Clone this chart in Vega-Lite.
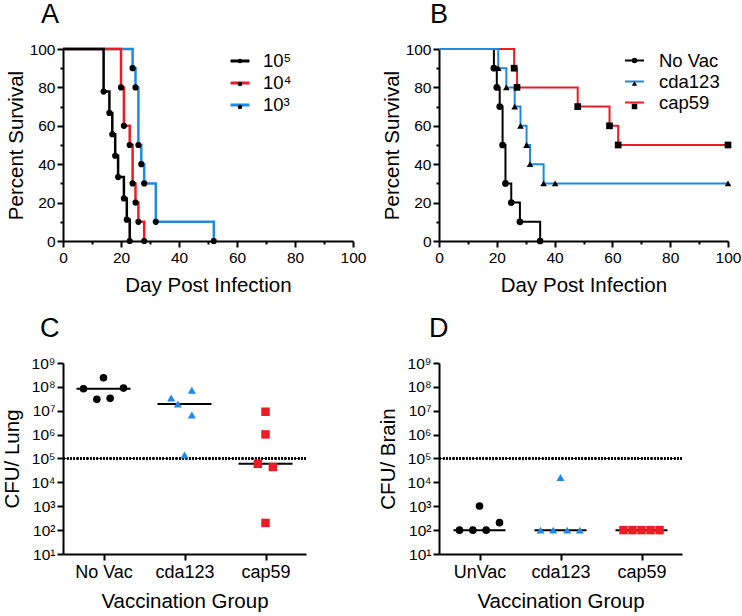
{
  "$schema": "https://vega.github.io/schema/vega-lite/v6.json",
  "padding": {"left": 2, "top": 1, "right": 0, "bottom": 2},
  "columns": 2,
  "spacing": {"row": 19, "column": 12},
  "resolve": {"scale": {"color": "independent", "shape": "independent", "size": "independent"}, "legend": {"color": "independent", "shape": "independent"}},
  "datasets": {
    "survA": [
      {"dose": "10³", "day": 0, "pct": 100},
      {"dose": "10³", "day": 24, "pct": 90},
      {"dose": "10³", "day": 25, "pct": 80},
      {"dose": "10³", "day": 26, "pct": 50},
      {"dose": "10³", "day": 27, "pct": 40},
      {"dose": "10³", "day": 28, "pct": 30},
      {"dose": "10³", "day": 32, "pct": 10},
      {"dose": "10³", "day": 52, "pct": 0},
      {"dose": "10⁴", "day": 0, "pct": 100},
      {"dose": "10⁴", "day": 20, "pct": 80},
      {"dose": "10⁴", "day": 21, "pct": 60},
      {"dose": "10⁴", "day": 23, "pct": 50},
      {"dose": "10⁴", "day": 24, "pct": 30},
      {"dose": "10⁴", "day": 25, "pct": 20},
      {"dose": "10⁴", "day": 26, "pct": 10},
      {"dose": "10⁴", "day": 28, "pct": 0},
      {"dose": "10⁵", "day": 0, "pct": 100},
      {"dose": "10⁵", "day": 14, "pct": 77.8},
      {"dose": "10⁵", "day": 16, "pct": 66.7},
      {"dose": "10⁵", "day": 17, "pct": 55.6},
      {"dose": "10⁵", "day": 18, "pct": 44.4},
      {"dose": "10⁵", "day": 19, "pct": 33.3},
      {"dose": "10⁵", "day": 21, "pct": 22.2},
      {"dose": "10⁵", "day": 22, "pct": 11.1},
      {"dose": "10⁵", "day": 23, "pct": 0}
    ],
    "survB": [
      {"group": "No Vac", "day": 0, "pct": 100},
      {"group": "No Vac", "day": 19, "pct": 90},
      {"group": "No Vac", "day": 20, "pct": 80},
      {"group": "No Vac", "day": 21, "pct": 70},
      {"group": "No Vac", "day": 22, "pct": 50},
      {"group": "No Vac", "day": 23, "pct": 30},
      {"group": "No Vac", "day": 25, "pct": 20},
      {"group": "No Vac", "day": 28, "pct": 10},
      {"group": "No Vac", "day": 35, "pct": 0},
      {"group": "cap59", "day": 0, "pct": 100},
      {"group": "cap59", "day": 26, "pct": 90},
      {"group": "cap59", "day": 27, "pct": 80},
      {"group": "cap59", "day": 48, "pct": 70},
      {"group": "cap59", "day": 59, "pct": 60},
      {"group": "cap59", "day": 62, "pct": 50},
      {"group": "cap59", "day": 100, "pct": 50},
      {"group": "cda123", "day": 0, "pct": 100},
      {"group": "cda123", "day": 20.5, "pct": 90},
      {"group": "cda123", "day": 23.3, "pct": 80},
      {"group": "cda123", "day": 26.2, "pct": 70},
      {"group": "cda123", "day": 28.2, "pct": 60},
      {"group": "cda123", "day": 30.3, "pct": 50},
      {"group": "cda123", "day": 31.5, "pct": 40},
      {"group": "cda123", "day": 36.2, "pct": 30},
      {"group": "cda123", "day": 40.2, "pct": 30},
      {"group": "cda123", "day": 100, "pct": 30}
    ],
    "lung": [
      {"group": "No Vac", "cfu": 83000000, "spread": -3},
      {"group": "No Vac", "cfu": 240000000, "spread": 0},
      {"group": "No Vac", "cfu": 89000000, "spread": 3},
      {"group": "No Vac", "cfu": 30000000, "spread": -1},
      {"group": "No Vac", "cfu": 33000000, "spread": 1},
      {"group": "cda123", "cfu": 34000000, "spread": -2},
      {"group": "cda123", "cfu": 19000000, "spread": -1},
      {"group": "cda123", "cfu": 72000000, "spread": 1.1},
      {"group": "cda123", "cfu": 6600000, "spread": 1.1},
      {"group": "cda123", "cfu": 140000, "spread": 0},
      {"group": "cap59", "cfu": 9100000, "spread": 0},
      {"group": "cap59", "cfu": 1020000, "spread": 0},
      {"group": "cap59", "cfu": 60000, "spread": -1.15},
      {"group": "cap59", "cfu": 44000, "spread": 1.1},
      {"group": "cap59", "cfu": 200, "spread": 0}
    ],
    "brain": [
      {"group": "UnVac", "cfu": 100, "spread": -3},
      {"group": "UnVac", "cfu": 100, "spread": -1},
      {"group": "UnVac", "cfu": 100, "spread": 1},
      {"group": "UnVac", "cfu": 1020, "spread": 0},
      {"group": "UnVac", "cfu": 205, "spread": 3},
      {"group": "cda123", "cfu": 100, "spread": -3},
      {"group": "cda123", "cfu": 100, "spread": -1.1},
      {"group": "cda123", "cfu": 100, "spread": 1},
      {"group": "cda123", "cfu": 100, "spread": 2.9},
      {"group": "cda123", "cfu": 16000, "spread": 0},
      {"group": "cap59", "cfu": 100, "spread": -2.7},
      {"group": "cap59", "cfu": 100, "spread": -1.35},
      {"group": "cap59", "cfu": 100, "spread": 0},
      {"group": "cap59", "cfu": 100, "spread": 1.35},
      {"group": "cap59", "cfu": 100, "spread": 2.7}
    ]
  },
  "concat": [
    {
      "title": {"text": "A", "dx": -22},
      "width": 290,
      "height": 192,
      "data": {"name": "survA"},
      "layer": [
        {
          "mark": {"type": "line", "interpolate": "step-after", "strokeWidth": 2.5},
          "encoding": {
            "x": {"field": "day", "type": "quantitative", "scale": {"domain": [0, 100], "nice": false},
              "axis": {"title": "Day Post Infection", "values": [0, 10, 20, 30, 40, 50, 60, 70, 80, 90, 100], "tickCount": 11,
                "labelExpr": "datum.value % 20 === 0 ? datum.label : ''", "labelOverlap": false,
                "tickSize": {"condition": {"test": "datum.value % 20 === 0", "value": 6}, "value": 3},
                "labelFontSize": 15.5, "titleFontSize": 20.5, "labelPadding": 3, "titlePadding": 10}},
            "y": {"field": "pct", "type": "quantitative", "scale": {"domain": [0, 100], "nice": false},
              "axis": {"title": "Percent Survival", "values": [0, 10, 20, 30, 40, 50, 60, 70, 80, 90, 100], "tickCount": 11,
                "labelExpr": "datum.value % 20 === 0 ? datum.label : ''", "labelOverlap": false,
                "tickSize": {"condition": {"test": "datum.value % 20 === 0", "value": 6}, "value": 3},
                "labelFontSize": 15.5, "titleFontSize": 20.5, "labelPadding": 2, "titlePadding": 3}},
            "color": {"field": "dose", "type": "nominal",
              "scale": {"domain": ["10⁵", "10⁴", "10³"], "range": ["#000000", "#ed1c24", "#1e8ae6"]},
              "legend": {"orient": "none", "legendX": 166, "legendY": 1, "title": null, "symbolType": "stroke",
                "symbolSize": 361, "symbolStrokeWidth": 3, "labelFontSize": 18.5, "labelOffset": 12,
                "rowPadding": 1, "padding": 0}}
          }
        },
        {
          "transform": [{"filter": "datum.day > 0"}, {"calculate": "datum.dose + ' '", "as": "marker"}],
          "mark": {"type": "point", "filled": true, "color": "black", "opacity": 1, "size": 38},
          "encoding": {
            "x": {"field": "day", "type": "quantitative"},
            "y": {"field": "pct", "type": "quantitative"},
            "shape": {"field": "marker", "type": "nominal",
              "scale": {"domain": ["10⁵ ", "10⁴ ", "10³ "], "range": ["circle", "circle", "circle"]},
              "legend": {"orient": "none", "legendX": 166, "legendY": 1, "title": null,
                "symbolSize": 20, "symbolFillColor": "black", "symbolStrokeWidth": 0,
                "labelFontSize": 22, "labelOpacity": 0, "labelOffset": 12, "rowPadding": 1, "padding": 0}}
          }
        }
      ]
    },
    {
      "title": {"text": "B", "dx": -9},
      "width": 289,
      "height": 192,
      "data": {"name": "survB"},
      "layer": [
        {
          "mark": {"type": "line", "interpolate": "step-after", "strokeWidth": 2},
          "encoding": {
            "x": {"field": "day", "type": "quantitative", "scale": {"domain": [0, 100], "nice": false},
              "axis": {"title": "Day Post Infection", "values": [0, 10, 20, 30, 40, 50, 60, 70, 80, 90, 100], "tickCount": 11,
                "labelExpr": "datum.value % 20 === 0 ? datum.label : ''", "labelOverlap": false,
                "tickSize": {"condition": {"test": "datum.value % 20 === 0", "value": 6}, "value": 3},
                "labelFontSize": 15.5, "titleFontSize": 20.5, "labelPadding": 3, "titlePadding": 10}},
            "y": {"field": "pct", "type": "quantitative", "scale": {"domain": [0, 100], "nice": false},
              "axis": {"title": "Percent Survival", "values": [0, 10, 20, 30, 40, 50, 60, 70, 80, 90, 100], "tickCount": 11,
                "labelExpr": "datum.value % 20 === 0 ? datum.label : ''", "labelOverlap": false,
                "tickSize": {"condition": {"test": "datum.value % 20 === 0", "value": 6}, "value": 3},
                "labelFontSize": 15.5, "titleFontSize": 20.5, "labelPadding": 2, "titlePadding": 3}},
            "color": {"field": "group", "type": "nominal",
              "scale": {"domain": ["No Vac", "cda123", "cap59"], "range": ["#000000", "#1e8ae6", "#ed1c24"]},
              "legend": {"orient": "none", "legendX": 185, "legendY": 1, "title": null, "symbolType": "stroke",
                "symbolSize": 361, "symbolStrokeWidth": 2, "labelFontSize": 18.5, "labelOffset": 14,
                "rowPadding": 1, "padding": 0}}
          }
        },
        {
          "transform": [{"filter": "datum.day > 0"}, {"calculate": "datum.group + ' '", "as": "marker"}],
          "mark": {"type": "point", "filled": true, "color": "black", "opacity": 1, "size": 45},
          "encoding": {
            "x": {"field": "day", "type": "quantitative"},
            "y": {"field": "pct", "type": "quantitative"},
            "shape": {"field": "marker", "type": "nominal",
              "scale": {"domain": ["No Vac ", "cda123 ", "cap59 "], "range": ["circle", "triangle-up", "square"]},
              "legend": {"orient": "none", "legendX": 185, "legendY": 1, "title": null,
                "symbolSize": 30, "symbolFillColor": "black", "symbolStrokeWidth": 0,
                "labelFontSize": 21, "labelOpacity": 0, "labelOffset": 14, "rowPadding": 1, "padding": 0}}
          }
        }
      ]
    },
    {
      "title": {"text": "C", "dx": -23},
      "width": 243,
      "height": 191,
      "data": {"name": "lung"},
      "layer": [
        {
          "mark": {"type": "rule", "strokeDash": [1.5, 1.8], "strokeWidth": 1.6, "color": "black"},
          "encoding": {
            "y": {"datum": 100000, "type": "quantitative",
              "scale": {"type": "log", "domain": [10, 1000000000], "nice": false},
              "axis": {"title": "CFU/ Lung", "values": [10, 100, 1000, 10000, 100000, 1000000, 10000000, 100000000, 1000000000], "tickCount": 9,
                "labelExpr": "'10' + ['⁰','¹','²','³','⁴','⁵','⁶','⁷','⁸','⁹'][round(log(datum.value)/LN10)]",
                "labelOverlap": false,
                "tickSize": 6, "labelFontSize": 15.5, "titleFontSize": 20.5, "labelPadding": 2, "titlePadding": 9}}
          }
        },
        {
          "mark": {"type": "tick", "color": "black", "thickness": 2, "size": 54},
          "encoding": {
            "x": {"field": "group", "type": "nominal",
              "scale": {"type": "point", "padding": 0.5, "domain": ["No Vac", "cda123", "cap59"]},
              "axis": {"title": "Vaccination Group", "labelAngle": 0, "tickSize": 6, "labelFontSize": 18,
                "titleFontSize": 20.5, "labelPadding": 3, "titlePadding": 10}},
            "y": {"aggregate": "median", "field": "cfu", "type": "quantitative",
              "axis": {"title": "CFU/ Lung"}}
          }
        },
        {
          "mark": {"type": "point", "filled": true, "opacity": 1},
          "encoding": {
            "x": {"field": "group", "type": "nominal"},
            "xOffset": {"field": "spread", "type": "quantitative", "scale": {"domain": [-3, 3], "range": [-20, 20]}},
            "y": {"field": "cfu", "type": "quantitative", "axis": {"title": "CFU/ Lung"}},
            "size": {"field": "group", "type": "ordinal", "scale": {"domain": ["No Vac", "cda123", "cap59"], "range": [58, 72, 72]}, "legend": null},
            "color": {"field": "group", "type": "nominal",
              "scale": {"domain": ["No Vac", "cda123", "cap59"], "range": ["#000000", "#1e8ae6", "#ed1c24"]},
              "legend": null},
            "shape": {"field": "group", "type": "nominal",
              "scale": {"domain": ["No Vac", "cda123", "cap59"], "range": ["circle", "triangle-up", "square"]},
              "legend": null}
          }
        }
      ]
    },
    {
      "title": {"text": "D", "dx": -10},
      "width": 243,
      "height": 191,
      "data": {"name": "brain"},
      "layer": [
        {
          "mark": {"type": "rule", "strokeDash": [1.5, 1.8], "strokeWidth": 1.6, "color": "black"},
          "encoding": {
            "y": {"datum": 100000, "type": "quantitative",
              "scale": {"type": "log", "domain": [10, 1000000000], "nice": false},
              "axis": {"title": "CFU/ Brain", "values": [10, 100, 1000, 10000, 100000, 1000000, 10000000, 100000000, 1000000000], "tickCount": 9,
                "labelExpr": "'10' + ['⁰','¹','²','³','⁴','⁵','⁶','⁷','⁸','⁹'][round(log(datum.value)/LN10)]",
                "labelOverlap": false,
                "tickSize": 6, "labelFontSize": 15.5, "titleFontSize": 20.5, "labelPadding": 2, "titlePadding": 9}}
          }
        },
        {
          "mark": {"type": "tick", "color": "black", "thickness": 2, "size": 52},
          "encoding": {
            "x": {"field": "group", "type": "nominal",
              "scale": {"type": "point", "padding": 0.5, "domain": ["UnVac", "cda123", "cap59"]},
              "axis": {"title": "Vaccination Group", "labelAngle": 0, "tickSize": 6, "labelFontSize": 18,
                "titleFontSize": 20.5, "labelPadding": 3, "titlePadding": 10}},
            "y": {"aggregate": "median", "field": "cfu", "type": "quantitative",
              "axis": {"title": "CFU/ Brain"}}
          }
        },
        {
          "mark": {"type": "point", "filled": true, "opacity": 1},
          "encoding": {
            "x": {"field": "group", "type": "nominal"},
            "xOffset": {"field": "spread", "type": "quantitative", "scale": {"domain": [-3, 3], "range": [-20, 20]}},
            "y": {"field": "cfu", "type": "quantitative", "axis": {"title": "CFU/ Brain"}},
            "size": {"field": "group", "type": "ordinal", "scale": {"domain": ["UnVac", "cda123", "cap59"], "range": [58, 72, 64]}, "legend": null},
            "color": {"field": "group", "type": "nominal",
              "scale": {"domain": ["UnVac", "cda123", "cap59"], "range": ["#000000", "#1e8ae6", "#ed1c24"]},
              "legend": null},
            "shape": {"field": "group", "type": "nominal",
              "scale": {"domain": ["UnVac", "cda123", "cap59"], "range": ["circle", "triangle-up", "square"]},
              "legend": null}
          }
        }
      ]
    }
  ],
  "config": {
    "font": "Liberation Sans",
    "view": {"stroke": null},
    "title": {"fontSize": 27, "fontWeight": "normal", "anchor": "start", "frame": "group", "offset": 13, "color": "black", "font": "Liberation Sans"},
    "axis": {"domainColor": "black", "domainWidth": 2, "tickColor": "black", "tickWidth": 2, "labelColor": "black",
      "titleColor": "black", "labelFont": "Liberation Sans", "titleFont": "Liberation Sans", "titleFontWeight": "normal",
      "grid": false, "labelFlush": false, "labelOverlap": false},
    "legend": {"labelFont": "Liberation Sans", "labelColor": "black"}
  }
}
